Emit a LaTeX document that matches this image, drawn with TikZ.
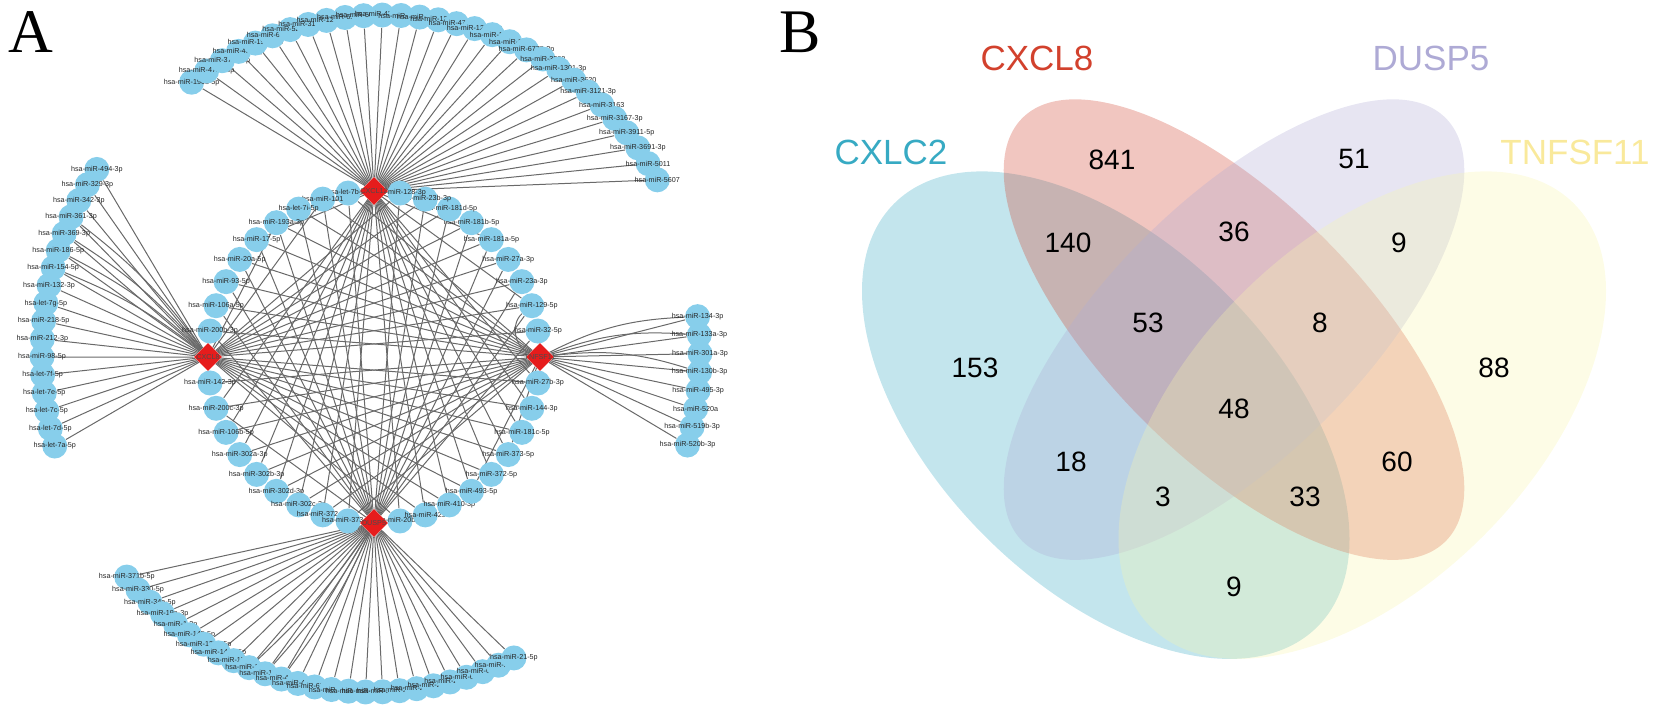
\documentclass[tikz,border=0pt]{standalone}
\usepackage{fontspec}
\setmainfont{Liberation Serif}
\newfontfamily\arialfont{Liberation Sans}
\usetikzlibrary{shapes.geometric,backgrounds}

\definecolor{mirblue}{RGB}{135,206,235}
\definecolor{hubred}{RGB}{230,28,28}
\definecolor{edgegray}{RGB}{105,105,105}
\definecolor{setcyan}{RGB}{55,170,195}
\definecolor{setred}{RGB}{210,65,45}
\definecolor{setpurple}{RGB}{174,170,213}
\definecolor{setyellow}{RGB}{248,245,172}

\tikzset{
  mirna/.style={circle,fill=mirblue,minimum size=12.5pt,inner sep=0pt},
  mirtext/.style={font=\arialfont\fontsize{3.6}{4}\selectfont,inner sep=0pt,text=black!85},
  hub/.style={diamond,aspect=1,fill=hubred,minimum size=14pt,inner sep=0pt},
  mirlink/.style={draw=edgegray,line width=0.5pt},
  setfill/.style={fill=#1,fill opacity=0.3},
  setname/.style={font=\arialfont\fontsize{17.5}{20}\selectfont,text=#1},
  vcount/.style={font=\arialfont\fontsize{14}{16}\selectfont},
  panel/.style={font=\fontsize{31}{34}\selectfont}
}

\begin{document}
\begin{tikzpicture}[x=0.5pt,y=-0.5pt]
\useasboundingbox (0,0) rectangle (1654,714);

% panel letters
\node[panel] (pa) at (31,32) {A};
\node[panel] (pb) at (800,32) {B};

%% A: gene--miRNA network
\coordinate (ring) at (374,357);
\coordinate (topfan) at (384,324);
\coordinate (leftfan) at (380,354);
\coordinate (botfan) at (371,375);
\coordinate (rightfan) at (377,356);

% inner ring, counter-clockwise from CXCL12
\foreach \j/\mir in {1/hsa-let-7b-5p, 2/hsa-miR-101, 3/hsa-let-7i-5p, 4/hsa-miR-193a-3p,
  5/hsa-miR-17-5p, 6/hsa-miR-20a-5p, 7/hsa-miR-93-5p, 8/hsa-miR-106a-5p, 9/hsa-miR-200b-3p,
  11/hsa-miR-142-3p, 12/hsa-miR-200c-3p, 13/hsa-miR-106b-5p, 14/hsa-miR-302a-3p,
  15/hsa-miR-302b-3p, 16/hsa-miR-302d-3p, 17/hsa-miR-302c-3p, 18/hsa-miR-372-3p, 19/hsa-miR-373-3p,
  21/hsa-miR-20b-5p, 22/hsa-miR-429, 23/hsa-miR-410-3p, 24/hsa-miR-493-5p, 25/hsa-miR-372-5p,
  26/hsa-miR-373-5p, 27/hsa-miR-181c-5p, 28/hsa-miR-144-3p, 29/hsa-miR-27b-3p,
  31/hsa-miR-32-5p, 32/hsa-miR-129-5p, 33/hsa-miR-23a-3p, 34/hsa-miR-27a-3p, 35/hsa-miR-181a-5p,
  36/hsa-miR-181b-5p, 37/hsa-miR-181d-5p, 38/hsa-miR-23b-3p, 39/hsa-miR-128-3p}
  \node[mirna,label={[mirtext]center:\mir}] (r\j) at ([shift={(-90-9*\j:166)}]ring) {};

% outer fans
\foreach \mir [count=\k from 0] in {hsa-miR-1908-5p, hsa-miR-4728-5p, hsa-miR-378a-3p,
  hsa-miR-486-3p, hsa-miR-193b-3p, hsa-miR-671-5p, hsa-miR-5236-3p, hsa-miR-3135b-5p,
  hsa-miR-1273g-3p, hsa-miR-6500-5p, hsa-miR-5007-5p, hsa-miR-4211-5p, hsa-miR-4302,
  hsa-miR-1827, hsa-miR-1207-3p, hsa-miR-4776-3p, hsa-miR-1296-5p, hsa-miR-190b, hsa-miR-543,
  hsa-miR-6778-3p, hsa-miR-3200, hsa-miR-1301-3p, hsa-miR-3620, hsa-miR-3121-3p, hsa-miR-3163,
  hsa-miR-3167-3p, hsa-miR-3911-5p, hsa-miR-3691-3p, hsa-miR-5011, hsa-miR-5607}
  \node[mirna,label={[mirtext]center:\mir}] (t\k) at ([shift={(-128.5+3.472*\k:309)}]topfan) {};

\foreach \mir [count=\k from 0] in {hsa-miR-494-3p, hsa-miR-329-3p, hsa-miR-342-3p,
  hsa-miR-361-3p, hsa-miR-369-3p, hsa-miR-186-5p, hsa-miR-154-5p, hsa-miR-132-3p,
  hsa-let-7g-5p, hsa-miR-218-5p, hsa-miR-212-3p, hsa-miR-98-5p, hsa-let-7f-5p,
  hsa-let-7e-5p, hsa-let-7c-5p, hsa-let-7d-5p, hsa-let-7a-5p}
  \node[mirna,label={[mirtext]center:\mir}] (l\k) at ([shift={(-146.9-3.056*\k:338)}]leftfan) {};

\foreach \mir [count=\k from 0] in {hsa-miR-371b-5p, hsa-miR-330-5p, hsa-miR-34a-5p,
  hsa-miR-19a-3p, hsa-miR-1-3p, hsa-miR-145-5p, hsa-miR-1271-5p, hsa-miR-146a-5p,
  hsa-miR-15a-5p, hsa-miR-16-5p, hsa-miR-195-5p, hsa-miR-424-5p, hsa-miR-497-5p,
  hsa-miR-6838-5p, hsa-miR-4458, hsa-miR-4500, hsa-miR-98-3p, hsa-miR-340-5p,
  hsa-miR-26a-5p, hsa-miR-26b-5p, hsa-miR-224-5p, hsa-miR-29a-3p, hsa-miR-622-3p,
  hsa-miR-653-5p, hsa-miR-21-3p, hsa-miR-21-5p}
  \node[mirna,label={[mirtext]center:\mir}] (b\k) at ([shift={(-219.6-3.088*\k:317)}]botfan) {};

\foreach \mir [count=\k from 0] in {hsa-miR-134-3p, hsa-miR-133a-3p, hsa-miR-301a-3p,
  hsa-miR-130b-3p, hsa-miR-495-3p, hsa-miR-520a, hsa-miR-519b-3p, hsa-miR-520b-3p}
  \node[mirna,label={[mirtext]center:\mir}] (f\k) at ([shift={(-7+3.286*\k:323)}]rightfan) {};

% the four genes
\node[hub,label={[mirtext,text=black!70]center:CXCL12}] (cxcl12) at (374,191) {};
\node[hub,label={[mirtext,text=black!70]center:CXCL8}] (cxcl8) at (208,357) {};
\node[hub,label={[mirtext,text=black!70]center:DUSP5}] (dusp5) at (374,523) {};
\node[hub,label={[mirtext,text=black!70]center:TNFSF11}] (tnfsf11) at (540,357) {};

\begin{scope}[on background layer]
  \foreach \k in {0,...,29} \draw[mirlink] (cxcl12) -- (t\k);
  \foreach \k in {0,...,16} \draw[mirlink] (cxcl8) -- (l\k);
  \foreach \k in {0,...,25} \draw[mirlink] (dusp5) -- (b\k);
  \foreach \k in {0,...,7} \draw[mirlink] (tnfsf11) -- (f\k);
  % repeated pairs come out bent
  \foreach \k in {3,4,5,6} \draw[mirlink] (cxcl8) to[bend right=8] (l\k);
  \foreach \k in {9,10,11} \draw[mirlink] (dusp5) to[bend left=6] (b\k);
  \foreach \k in {0,1,3} \draw[mirlink] (tnfsf11) to[bend left=12] (f\k);
  \draw[mirlink] (tnfsf11) to[bend left=60] (r32);
  % ring links
  \foreach \j in {3,5,12,13,14,15,16,17,18,19,21,22,23,24,25,26,27,28,29,32,35}
    \draw[mirlink] (cxcl12) -- (r\j);
  \foreach \j in {2,4,21,22,23,24,25,26,27,28,29,31,32,33,34,35,36,37,38,39}
    \draw[mirlink] (cxcl8) -- (r\j);
  \foreach \j in {1,2,3,4,5,6,7,8,9,12,31,32,33,34,35,36,37,38,39}
    \draw[mirlink] (dusp5) -- (r\j);
  \foreach \j in {1,2,3,4,5,6,7,8,9,11,12,13,14,15,16,17,18,19,24,26}
    \draw[mirlink] (tnfsf11) -- (r\j);
\end{scope}

%% B: Venn diagram
\coordinate (cxlc2c) at (1105.75,415.15);
\coordinate (vmid) at (1234,329.6);
\coordinate (tnfc) at (1362.25,415.15);
\fill[setfill=setcyan,rotate around={135:(cxlc2c)}] (cxlc2c) ellipse [x radius=299.25,y radius=171];
\fill[setfill=setred,rotate around={135:(vmid)}] (vmid) ellipse [x radius=299.25,y radius=128.25];
\fill[setfill=setpurple,rotate around={45:(vmid)}] (vmid) ellipse [x radius=299.25,y radius=128.25];
\fill[setfill=setyellow,rotate around={45:(tnfc)}] (tnfc) ellipse [x radius=299.25,y radius=171];

\node[setname=setcyan] (lcxlc2) at (891,152) {CXLC2};
\node[setname=setred] (lcxcl8) at (1037,58) {CXCL8};
\node[setname=setpurple] (ldusp5) at (1431,58) {DUSP5};
\node[setname=setyellow!90!orange] (ltnfsf11) at (1575,152) {TNFSF11};

\foreach \x/\y/\n [count=\i] in {1112/160/841, 1354/159/51, 1068/243/140, 1234/232/36,
  1399/243/9, 975/368/153, 1148/323/53, 1320/323/8, 1494/368/88, 1234/409/48,
  1071/462/18, 1397/462/60, 1163/497/3, 1305/497/33, 1234/587/9}
  \node[vcount] (v\i) at (\x,\y) {\n};
\end{tikzpicture}
\end{document}
